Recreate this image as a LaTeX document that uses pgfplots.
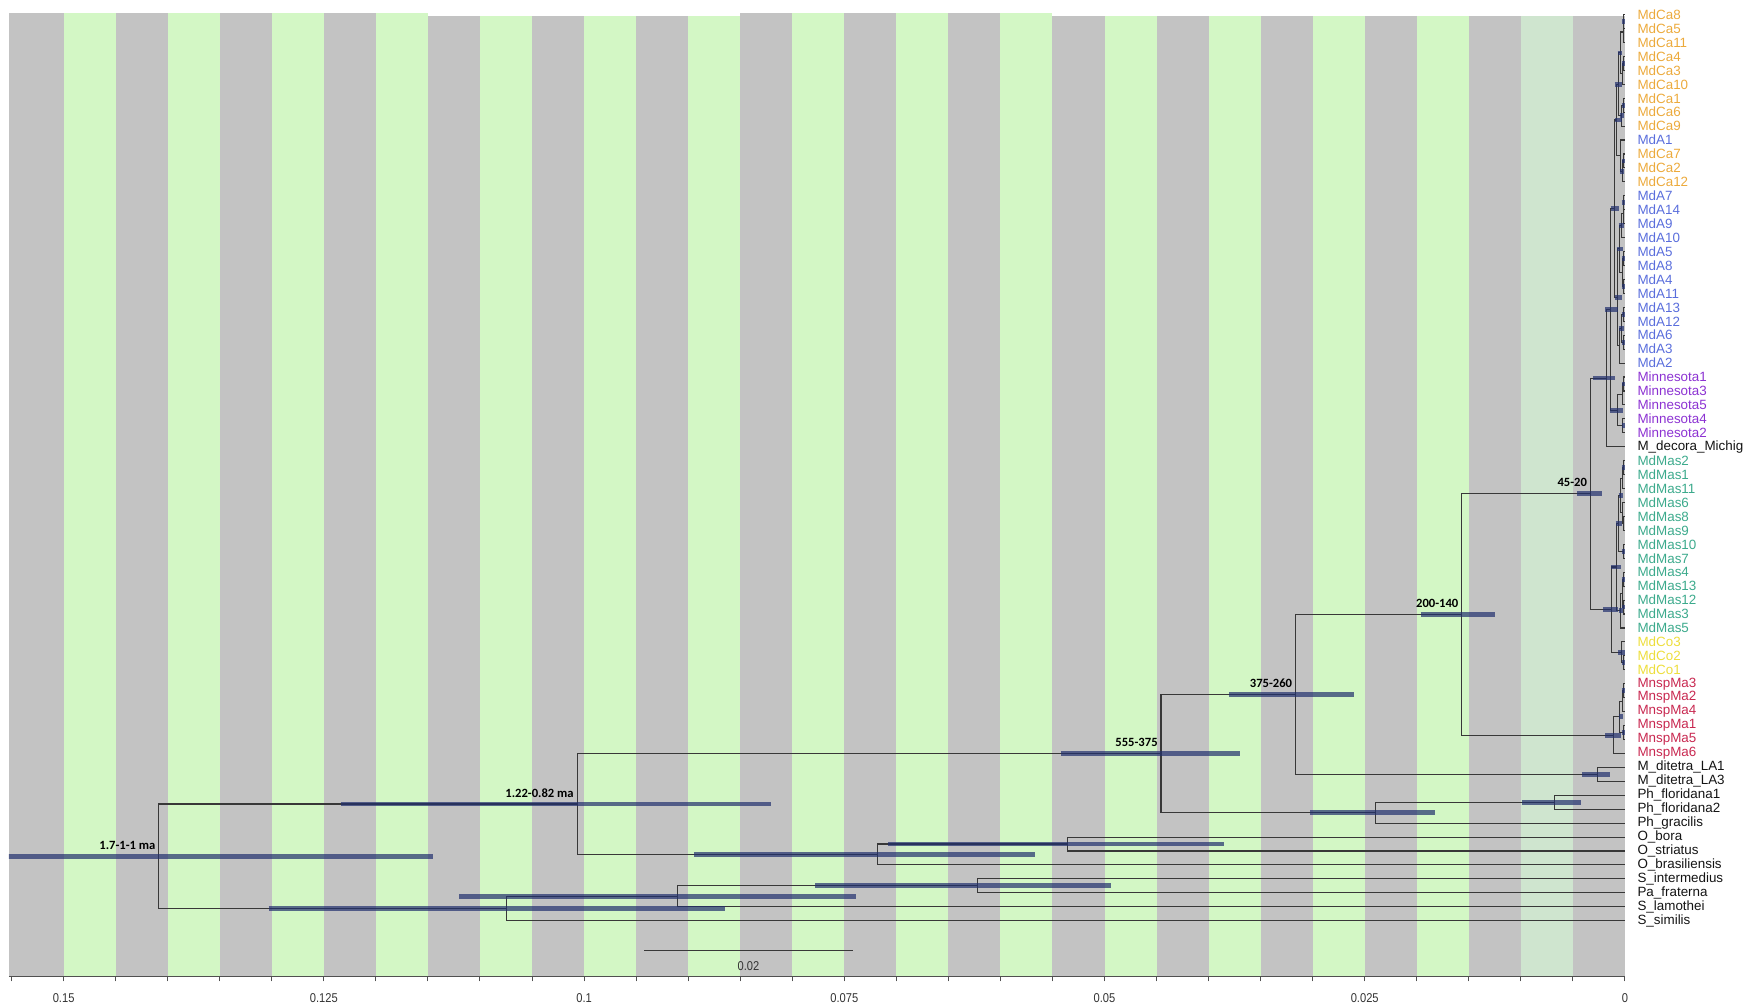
\documentclass[border=0pt]{standalone}
\usepackage{fontspec}
\setmainfont{Liberation Sans}
\newfontfamily\calib{Carlito}
\usepackage{graphicx}
\usepackage{pgfplots}
\pgfplotsset{compat=1.18}

\definecolor{stgray}{HTML}{C3C3C3}
\definecolor{stgreen}{HTML}{D3F7C5}
\definecolor{stpale}{HTML}{CFE5CF}
\definecolor{branch}{HTML}{383838}
\definecolor{hpd}{HTML}{22306E}
\definecolor{tickc}{HTML}{505050}
\definecolor{cCa}{HTML}{ECAA3C}
\definecolor{cA}{HTML}{5A6EDC}
\definecolor{cMi}{HTML}{8C32D2}
\definecolor{cMas}{HTML}{3CAA8C}
\definecolor{cCo}{HTML}{EDDE3C}
\definecolor{cMn}{HTML}{C82850}

\newcommand\lCa[1]{\textcolor{cCa}{#1}}
\newcommand\lA[1]{\textcolor{cA}{#1}}
\newcommand\lMi[1]{\textcolor{cMi}{#1}}
\newcommand\lMas[1]{\textcolor{cMas}{#1}}
\newcommand\lCo[1]{\textcolor{cCo}{#1}}
\newcommand\lMn[1]{\textcolor{cMn}{#1}}
\newcommand\nx[1]{\scalebox{0.87}[1]{#1}}

% one background band: colour, left x, right x, top y
\newcommand\stripe[4]{\addplot[draw=none,fill=#1,forget plot] coordinates {(#2,#4) (#3,#4) (#3,-70) (#2,-70)};}

\begin{document}
\begin{tikzpicture}
\begin{axis}[
  scale only axis, width=808pt, height=481.9pt,
  xmin=-0.15526, xmax=0, ymin=-70, ymax=-0.86,
  axis x line*=bottom, axis y line*=right,
  x axis line style={draw=tickc, line width=0.6pt},
  y axis line style={draw=none},
  tick align=outside,
  major tick length=2.5pt, minor tick length=2.5pt,
  xtick={-0.15,-0.125,-0.1,-0.075,-0.05,-0.025,0},
  xticklabels={\nx{0.15},\nx{0.125},\nx{0.1},\nx{0.075},\nx{0.05},\nx{0.025},\nx{0}},
  minor x tick num=4,
  extra x ticks={-0.155}, extra x tick labels={},
  xtick style={draw=tickc, line width=0.5pt},
  minor x tick style={draw=tickc, line width=0.5pt},
  x tick label style={font=\fontsize{6.4}{7}\selectfont, text=black!80, inner sep=0pt},
  xticklabel shift=6pt,
  ytick={-1,-2,...,-66},
  yticklabels={\lCa{MdCa8}, \lCa{MdCa5}, \lCa{MdCa11}, \lCa{MdCa4}, \lCa{MdCa3}, \lCa{MdCa10}, \lCa{MdCa1}, \lCa{MdCa6}, \lCa{MdCa9}, \lA{MdA1}, \lCa{MdCa7}, \lCa{MdCa2}, \lCa{MdCa12}, \lA{MdA7}, \lA{MdA14}, \lA{MdA9}, \lA{MdA10}, \lA{MdA5}, \lA{MdA8}, \lA{MdA4}, \lA{MdA11}, \lA{MdA13}, \lA{MdA12}, \lA{MdA6}, \lA{MdA3}, \lA{MdA2}, \lMi{Minnesota1}, \lMi{Minnesota3}, \lMi{Minnesota5}, \lMi{Minnesota4}, \lMi{Minnesota2}, M\_decora\_Michig, \lMas{MdMas2}, \lMas{MdMas1}, \lMas{MdMas11}, \lMas{MdMas6}, \lMas{MdMas8}, \lMas{MdMas9}, \lMas{MdMas10}, \lMas{MdMas7}, \lMas{MdMas4}, \lMas{MdMas13}, \lMas{MdMas12}, \lMas{MdMas3}, \lMas{MdMas5}, \lCo{MdCo3}, \lCo{MdCo2}, \lCo{MdCo1}, \lMn{MnspMa3}, \lMn{MnspMa2}, \lMn{MnspMa4}, \lMn{MnspMa1}, \lMn{MnspMa5}, \lMn{MnspMa6}, M\_ditetra\_LA1, M\_ditetra\_LA3, Ph\_floridana1, Ph\_floridana2, Ph\_gracilis, O\_bora, O\_striatus, O\_brasiliensis, S\_intermedius, Pa\_fraterna, S\_lamothei, S\_similis},
  ytick style={draw=none},
  y tick label style={font=\fontsize{6.7}{7}\selectfont, text=black!92, inner sep=0pt, anchor=west},
  yticklabel shift=3.6pt,
]

% background bands, 0.005 wide
\stripe{stgray}{-0.15526}{-0.150}{-0.86}
\stripe{stgreen}{-0.150}{-0.145}{-0.86}
\stripe{stgray}{-0.145}{-0.140}{-0.86}
\stripe{stgreen}{-0.140}{-0.135}{-0.86}
\stripe{stgray}{-0.135}{-0.130}{-0.86}
\stripe{stgreen}{-0.130}{-0.125}{-0.86}
\stripe{stgray}{-0.125}{-0.120}{-0.86}
\stripe{stgreen}{-0.120}{-0.115}{-0.86}
\stripe{stgray}{-0.115}{-0.110}{-1.10}
\stripe{stgreen}{-0.110}{-0.105}{-1.10}
\stripe{stgray}{-0.105}{-0.100}{-1.10}
\stripe{stgreen}{-0.100}{-0.095}{-1.10}
\stripe{stgray}{-0.095}{-0.090}{-1.10}
\stripe{stgreen}{-0.090}{-0.085}{-1.10}
\stripe{stgray}{-0.085}{-0.080}{-0.86}
\stripe{stgreen}{-0.080}{-0.075}{-0.86}
\stripe{stgray}{-0.075}{-0.070}{-0.86}
\stripe{stgreen}{-0.070}{-0.065}{-0.86}
\stripe{stgray}{-0.065}{-0.060}{-0.86}
\stripe{stgreen}{-0.060}{-0.055}{-0.86}
\stripe{stgray}{-0.055}{-0.050}{-1.10}
\stripe{stgreen}{-0.050}{-0.045}{-1.10}
\stripe{stgray}{-0.045}{-0.040}{-1.10}
\stripe{stgreen}{-0.040}{-0.035}{-1.10}
\stripe{stgray}{-0.035}{-0.030}{-1.10}
\stripe{stgreen}{-0.030}{-0.025}{-1.10}
\stripe{stgray}{-0.025}{-0.020}{-1.10}
\stripe{stgreen}{-0.020}{-0.015}{-1.10}
\stripe{stgray}{-0.015}{-0.010}{-1.10}
\stripe{stpale}{-0.010}{-0.005}{-1.10}
\stripe{stgray}{-0.005}{0}{-1.10}

% tree branches: child1 - node - node - child2
\addplot[draw=branch, line width=0.55pt, unbounded coords=jump, forget plot] coordinates {
(0,-1) (-0.0001,-1) (-0.0001,-2) (0,-2) (nan,nan)
(-0.0001,-1.5) (-0.00015,-1.5) (-0.00015,-3) (0,-3) (nan,nan)
(0,-4) (-0.0001,-4) (-0.0001,-5) (0,-5) (nan,nan)
(-0.0001,-4.5) (-0.0002,-4.5) (-0.0002,-6) (0,-6) (nan,nan)
(-0.00015,-2.25) (-0.0004,-2.25) (-0.0004,-5.25) (-0.0002,-5.25) (nan,nan)
(0,-7) (-0.0001,-7) (-0.0001,-8) (0,-8) (nan,nan)
(-0.0001,-7.5) (-0.0003,-7.5) (-0.0003,-9) (0,-9) (nan,nan)
(-0.0004,-3.75) (-0.0006,-3.75) (-0.0006,-8.25) (-0.0003,-8.25) (nan,nan)
(0,-11) (-0.0001,-11) (-0.0001,-12) (0,-12) (nan,nan)
(-0.0001,-11.5) (-0.0002,-11.5) (-0.0002,-13) (0,-13) (nan,nan)
(0,-10) (-0.0004,-10) (-0.0004,-12.25) (-0.0002,-12.25) (nan,nan)
(-0.0006,-6) (-0.00085,-6) (-0.00085,-11.125) (-0.0004,-11.125) (nan,nan)
(0,-14) (-0.0001,-14) (-0.0001,-15) (0,-15) (nan,nan)
(-0.0001,-14.5) (-0.00015,-14.5) (-0.00015,-16) (0,-16) (nan,nan)
(-0.00015,-15.25) (-0.0003,-15.25) (-0.0003,-17) (0,-17) (nan,nan)
(0,-18) (-0.0001,-18) (-0.0001,-19) (0,-19) (nan,nan)
(0,-20) (-0.0001,-20) (-0.0001,-21) (0,-21) (nan,nan)
(-0.0001,-18.5) (-0.00025,-18.5) (-0.00025,-20.5) (-0.0001,-20.5) (nan,nan)
(-0.0003,-16.125) (-0.0005,-16.125) (-0.0005,-19.5) (-0.00025,-19.5) (nan,nan)
(0,-22) (-0.0001,-22) (-0.0001,-23) (0,-23) (nan,nan)
(0,-24) (-0.0001,-24) (-0.0001,-25) (0,-25) (nan,nan)
(-0.0001,-22.5) (-0.0003,-22.5) (-0.0003,-24.5) (-0.0001,-24.5) (nan,nan)
(-0.0003,-23.5) (-0.0005,-23.5) (-0.0005,-26) (0,-26) (nan,nan)
(-0.0005,-17.8125) (-0.00075,-17.8125) (-0.00075,-24.75) (-0.0005,-24.75) (nan,nan)
(-0.00085,-8.5625) (-0.00097,-8.5625) (-0.00097,-21.2813) (-0.00075,-21.2813) (nan,nan)
(0,-27) (-0.0001,-27) (-0.0001,-28) (0,-28) (nan,nan)
(-0.0001,-27.5) (-0.0002,-27.5) (-0.0002,-29) (0,-29) (nan,nan)
(0,-30) (-0.0002,-30) (-0.0002,-31) (0,-31) (nan,nan)
(-0.0002,-28.25) (-0.0007,-28.25) (-0.0007,-30.5) (-0.0002,-30.5) (nan,nan)
(-0.00097,-14.9219) (-0.00137,-14.9219) (-0.00137,-29.375) (-0.0007,-29.375) (nan,nan)
(-0.00137,-22.1484) (-0.00174,-22.1484) (-0.00174,-32) (0,-32) (nan,nan)
(0,-33) (-0.0001,-33) (-0.0001,-34) (0,-34) (nan,nan)
(-0.0001,-33.5) (-0.0002,-33.5) (-0.0002,-35) (0,-35) (nan,nan)
(0,-37) (-0.0001,-37) (-0.0001,-38) (0,-38) (nan,nan)
(0,-36) (-0.0002,-36) (-0.0002,-37.5) (-0.0001,-37.5) (nan,nan)
(-0.0002,-34.25) (-0.0004,-34.25) (-0.0004,-36.75) (-0.0002,-36.75) (nan,nan)
(0,-39) (-0.0001,-39) (-0.0001,-40) (0,-40) (nan,nan)
(-0.0004,-35.5) (-0.0006,-35.5) (-0.0006,-39.5) (-0.0001,-39.5) (nan,nan)
(0,-41) (-0.0001,-41) (-0.0001,-42) (0,-42) (nan,nan)
(0,-43) (-0.0001,-43) (-0.0001,-44) (0,-44) (nan,nan)
(-0.0001,-41.5) (-0.0002,-41.5) (-0.0002,-43.5) (-0.0001,-43.5) (nan,nan)
(-0.0002,-42.5) (-0.0004,-42.5) (-0.0004,-45) (0,-45) (nan,nan)
(-0.0006,-37.5) (-0.00085,-37.5) (-0.00085,-43.75) (-0.0004,-43.75) (nan,nan)
(0,-47) (-0.0001,-47) (-0.0001,-48) (0,-48) (nan,nan)
(0,-46) (-0.0003,-46) (-0.0003,-47.5) (-0.0001,-47.5) (nan,nan)
(-0.00085,-40.625) (-0.00131,-40.625) (-0.00131,-46.75) (-0.0003,-46.75) (nan,nan)
(-0.00174,-27.0742) (-0.00332,-27.0742) (-0.00332,-43.6875) (-0.00131,-43.6875) (nan,nan)
(0,-49) (-0.0001,-49) (-0.0001,-50) (0,-50) (nan,nan)
(-0.0001,-49.5) (-0.0002,-49.5) (-0.0002,-51) (0,-51) (nan,nan)
(0,-52) (-0.0001,-52) (-0.0001,-53) (0,-53) (nan,nan)
(-0.0002,-50.25) (-0.00055,-50.25) (-0.00055,-52.5) (-0.0001,-52.5) (nan,nan)
(-0.00055,-51.375) (-0.00106,-51.375) (-0.00106,-54) (0,-54) (nan,nan)
(-0.00332,-35.3809) (-0.01568,-35.3809) (-0.01568,-52.6875) (-0.00106,-52.6875) (nan,nan)
(0,-55) (-0.00266,-55) (-0.00266,-56) (0,-56) (nan,nan)
(-0.01568,-44.0342) (-0.03165,-44.0342) (-0.03165,-55.5) (-0.00266,-55.5) (nan,nan)
(0,-57) (-0.00674,-57) (-0.00674,-58) (0,-58) (nan,nan)
(-0.00674,-57.5) (-0.02397,-57.5) (-0.02397,-59) (0,-59) (nan,nan)
(-0.03165,-49.7671) (-0.04457,-49.7671) (-0.04457,-58.25) (-0.02397,-58.25) (nan,nan)
(0,-60) (-0.05356,-60) (-0.05356,-61) (0,-61) (nan,nan)
(-0.05356,-60.5) (-0.07183,-60.5) (-0.07183,-62) (0,-62) (nan,nan)
(-0.04457,-54.0085) (-0.10067,-54.0085) (-0.10067,-61.25) (-0.07183,-61.25) (nan,nan)
(0,-63) (-0.06217,-63) (-0.06217,-64) (0,-64) (nan,nan)
(-0.06217,-63.5) (-0.09103,-63.5) (-0.09103,-65) (0,-65) (nan,nan)
(-0.09103,-64.25) (-0.10746,-64.25) (-0.10746,-66) (0,-66) (nan,nan)
(-0.10067,-57.6293) (-0.14086,-57.6293) (-0.14086,-65.125) (-0.10746,-65.125)
};

% node age bars (95% HPD)
\addplot[draw=hpd, draw opacity=0.7, line width=2.4pt, line cap=butt, unbounded coords=jump, forget plot] coordinates {
(-0.1556,-61.3771) (-0.11456,-61.3771) (nan,nan)
(-0.12339,-57.6293) (-0.08205,-57.6293) (nan,nan)
(-0.05419,-54.0085) (-0.0370,-54.0085) (nan,nan)
(-0.03802,-49.7671) (-0.02606,-49.7671) (nan,nan)
(-0.01963,-44.0342) (-0.01246,-44.0342) (nan,nan)
(-0.00463,-35.3809) (-0.00223,-35.3809) (nan,nan)
(-0.00415,-55.5) (-0.00143,-55.5) (nan,nan)
(-0.00187,-52.6875) (-0.00039,-52.6875) (nan,nan)
(-0.03021,-58.25) (-0.01822,-58.25) (nan,nan)
(-0.00986,-57.5) (-0.00422,-57.5) (nan,nan)
(-0.08945,-61.25) (-0.05672,-61.25) (nan,nan)
(-0.07079,-60.5) (-0.03854,-60.5) (nan,nan)
(-0.13030,-65.125) (-0.08645,-65.125) (nan,nan)
(-0.11199,-64.25) (-0.07383,-64.25) (nan,nan)
(-0.07779,-63.5) (-0.04934,-63.5) (nan,nan)
(-0.00304,-27.0742) (-0.00095,-27.0742) (nan,nan)
(-0.00187,-22.1484) (-0.00062,-22.1484) (nan,nan)
(-0.00137,-14.9219) (-0.00057,-14.9219) (nan,nan)
(-0.00095,-8.5625) (-0.0003,-8.5625) (nan,nan)
(-0.0010,-21.2813) (-0.0003,-21.2813) (nan,nan)
(-0.00144,-29.375) (-0.00023,-29.375) (nan,nan)
(-0.0021,-43.6875) (-0.00069,-43.6875) (nan,nan)
(-0.00132,-40.625) (-0.00037,-40.625) (nan,nan)
(-0.00068,-46.75) (0,-46.75) (nan,nan)
(-0.0006,-51.375) (-0.0002,-51.375) (nan,nan)
(-0.0007,-3.75) (-0.0003,-3.75) (nan,nan)
(-0.0005,-8.25) (-0.0001,-8.25) (nan,nan)
(-0.0010,-6) (-0.0003,-6) (nan,nan)
(-0.0005,-12.25) (-0.00005,-12.25) (nan,nan)
(-0.0006,-16.125) (-0.0001,-16.125) (nan,nan)
(-0.0008,-17.8125) (-0.0002,-17.8125) (nan,nan)
(-0.0006,-23.5) (-0.00005,-23.5) (nan,nan)
(-0.0006,-35.5) (-0.0002,-35.5) (nan,nan)
(-0.0009,-37.5) (-0.0003,-37.5) (nan,nan)
(-0.0006,-43.75) (-0.0002,-43.75) (nan,nan)
(-0.0003,-1.5) (0,-1.5) (nan,nan)
(-0.0003,-4.5) (0,-4.5) (nan,nan)
(-0.0003,-7.5) (0,-7.5) (nan,nan)
(-0.0003,-11.5) (0,-11.5) (nan,nan)
(-0.0003,-14.5) (0,-14.5) (nan,nan)
(-0.0003,-18.5) (0,-18.5) (nan,nan)
(-0.0003,-20.5) (0,-20.5) (nan,nan)
(-0.0003,-22.5) (0,-22.5) (nan,nan)
(-0.0003,-24.5) (0,-24.5) (nan,nan)
(-0.0003,-27.5) (0,-27.5) (nan,nan)
(-0.0003,-30.5) (0,-30.5) (nan,nan)
(-0.0003,-33.5) (0,-33.5) (nan,nan)
(-0.0003,-39.5) (0,-39.5) (nan,nan)
(-0.0003,-41.5) (0,-41.5) (nan,nan)
(-0.0003,-43.5) (0,-43.5) (nan,nan)
(-0.0003,-47.5) (0,-47.5) (nan,nan)
(-0.0003,-49.5) (0,-49.5) (nan,nan)
(-0.0003,-52.5) (0,-52.5)
};

% age labels at the main nodes
\addplot[draw=none, mark=none, forget plot, nodes near coords, point meta=explicit symbolic,
  every node near coord/.style={anchor=south east, inner sep=0pt, xshift=-1.5pt, yshift=3.2pt,
    font=\calib\bfseries\fontsize{6.3}{7}\selectfont, text=black}] coordinates {
(-0.14086,-61.3771) [1.7-1-1 ma]
(-0.10067,-57.6293) [1.22-0.82 ma]
(-0.04457,-54.0085) [555-375]
(-0.03165,-49.7671) [375-260]
(-0.01568,-44.0342) [200-140]
(-0.00332,-35.3809) [45-20]
};

% scale bar
\addplot[draw=branch, line width=0.55pt, forget plot] coordinates {(-0.0942,-68.15) (-0.0742,-68.15)};
\addplot[draw=none, mark=none, forget plot, nodes near coords, point meta=explicit symbolic,
  every node near coord/.style={anchor=center, inner sep=0pt,
    font=\fontsize{6.4}{7}\selectfont, text=black!80}] coordinates {(-0.0842,-69.24) [\nx{0.02}]};

\coordinate (bbA) at (axis description cs:-0.0055,-0.0302);
\coordinate (bbB) at (axis description cs:1.0811,1.0131);
\end{axis}
\path (bbA) rectangle (bbB);
\end{tikzpicture}
\end{document}
